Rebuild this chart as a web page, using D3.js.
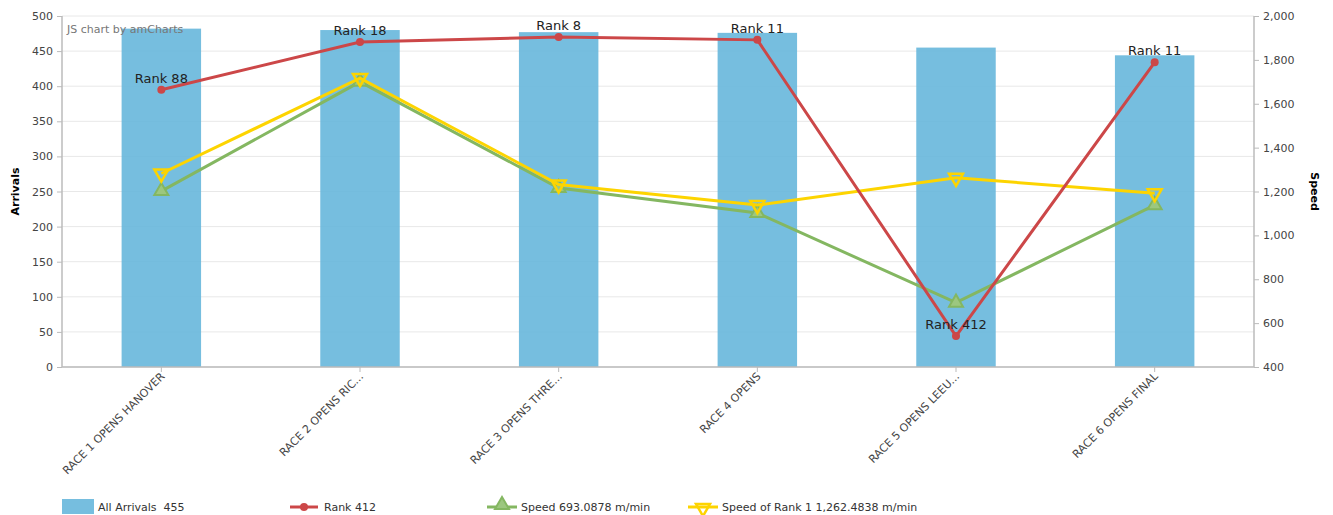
<!DOCTYPE html>
<html><head><meta charset="utf-8">
<script src="https://cdn.jsdelivr.net/npm/d3@7"></script>
<style>body{margin:0;background:#fff}svg{display:block;font-family:"DejaVu Sans",Verdana,sans-serif}</style>
</head><body><svg id="c" width="1333" height="515"></svg>
<script>
const categories = ["RACE 1 OPENS HANOVER","RACE 2 OPENS RIC...","RACE 3 OPENS THRE...","RACE 4 OPENS","RACE 5 OPENS LEEU...","RACE 6 OPENS FINAL"];
const arrivals = [482, 480, 477, 476, 455, 444];
const ranks = [88, 18, 8, 11, 412, 11];
const speed = [1202, 1700, 1216, 1102, 693.0878, 1138];
const speedRank1 = [1282, 1717, 1232, 1138, 1262.4838, 1192];
const leftTicks = [0,50,100,150,200,250,300,350,400,450,500];
const rightTicks = [400,600,800,1000,1200,1400,1600,1800,2000];

const svg = d3.select("#c");
const L = 62, R = 1254, T = 16, B = 367;
const x = d3.scaleBand().domain(categories).range([L, R]).paddingInner(0.6).paddingOuter(0.3);
const xc = d => x(d) + x.bandwidth()/2;
const yL = d3.scaleLinear().domain([0, 500]).range([B, T]);
const yR = d3.scaleLinear().domain([400, 2000]).range([B, T]);

// grid
svg.append("g").selectAll("line").data(leftTicks).join("line")
  .attr("x1", L).attr("x2", R).attr("y1", d => yL(d)).attr("y2", d => yL(d))
  .attr("stroke", "#e8e8e8").attr("stroke-width", 1);

// bars
svg.append("g").selectAll("rect").data(arrivals).join("rect")
  .attr("x", (d, i) => x(categories[i])).attr("width", x.bandwidth())
  .attr("y", d => yL(d)).attr("height", d => B - yL(d))
  .attr("fill", "#67b7dc").attr("fill-opacity", 0.9);

// watermark
svg.append("text").attr("x", 67).attr("y", 33).attr("font-size", 11).attr("fill", "#777").text("JS chart by amCharts");

// axes
const axL = svg.append("g").attr("transform", `translate(${L},0)`).call(d3.axisLeft(yL).tickValues(leftTicks).tickSize(5).tickPadding(4));
const axR = svg.append("g").attr("transform", `translate(${R},0)`).call(d3.axisRight(yR).tickValues(rightTicks).tickSize(5).tickPadding(4).tickFormat(d3.format(",")));
const axB = svg.append("g").attr("transform", `translate(0,${B})`).call(d3.axisBottom(x).tickSize(5).tickFormat(""));
[axL, axR, axB].forEach(a => {
  a.select(".domain").attr("stroke", "#bbb").attr("stroke-width", 1.5);
  a.selectAll(".tick line").attr("stroke", "#bbb");
  a.selectAll("text").attr("font-size", 11).attr("fill", "#444").attr("font-family", '"DejaVu Sans",Verdana,sans-serif');
});
axL.select(".domain").attr("d", `M0,${T}V${B}`);
axR.select(".domain").attr("d", `M0,${T}V${B}`);
axB.select(".domain").attr("d", `M${L},0H${R}`);

// x labels
svg.append("g").selectAll("text").data(categories).join("text")
  .attr("transform", d => `translate(${xc(d)+4},${B+10}) rotate(-45)`)
  .attr("text-anchor", "end").attr("font-size", 11).attr("fill", "#444").text(d => d);

// axis titles
svg.append("text").attr("transform", `translate(19,${(T+B)/2}) rotate(-90)`).attr("text-anchor", "middle")
  .attr("font-size", 11).attr("font-weight", "bold").attr("fill", "#000").text("Arrivals");
svg.append("text").attr("transform", `translate(1311,${(T+B)/2}) rotate(90)`).attr("text-anchor", "middle")
  .attr("font-size", 11).attr("font-weight", "bold").attr("fill", "#000").text("Speed");

// lines
const rankPos = ranks.map((r, i) => arrivals[i] - r + 1);
const line = (ys) => d3.line().x((d, i) => xc(categories[i])).y(d => ys(d));
const tri = d3.symbol().type(d3.symbolTriangle).size(85);

svg.append("path").datum(speed).attr("d", line(yR)).attr("fill", "none").attr("stroke", "#84b761").attr("stroke-width", 3);
svg.append("g").selectAll("path").data(speed).join("path")
  .attr("transform", (d, i) => `translate(${xc(categories[i])},${yR(d)})`).attr("d", tri)
  .attr("fill", "#9cc77f").attr("stroke", "#84b761").attr("stroke-width", 2);

svg.append("path").datum(speedRank1).attr("d", line(yR)).attr("fill", "none").attr("stroke", "#fdd400").attr("stroke-width", 3);
svg.append("g").selectAll("path").data(speedRank1).join("path")
  .attr("transform", (d, i) => `translate(${xc(categories[i])},${yR(d)}) rotate(180)`).attr("d", tri)
  .attr("fill", "none").attr("stroke", "#fdd400").attr("stroke-width", 2.5);

svg.append("path").datum(rankPos).attr("d", line(yL)).attr("fill", "none").attr("stroke", "#cc4748").attr("stroke-width", 3);
svg.append("g").selectAll("circle").data(rankPos).join("circle")
  .attr("cx", (d, i) => xc(categories[i])).attr("cy", d => yL(d)).attr("r", 4).attr("fill", "#cc4748");
svg.append("g").selectAll("text").data(rankPos).join("text")
  .attr("x", (d, i) => xc(categories[i])).attr("y", d => yL(d) - 7)
  .attr("text-anchor", "middle").attr("font-size", 13).attr("fill", "#222")
  .text((d, i) => "Rank " + ranks[i]);

// legend
const lg = svg.append("g").attr("font-size", 11).attr("fill", "#333");
lg.append("rect").attr("x", 62).attr("y", 499).attr("width", 32).attr("height", 15).attr("fill", "#67b7dc").attr("fill-opacity", 0.9);
lg.append("text").attr("x", 98).attr("y", 511).text("All Arrivals\u00a0 " + arrivals[4]);
lg.append("line").attr("x1", 290).attr("x2", 318).attr("y1", 507).attr("y2", 507).attr("stroke", "#cc4748").attr("stroke-width", 3);
lg.append("circle").attr("cx", 304).attr("cy", 507).attr("r", 4).attr("fill", "#cc4748");
lg.append("text").attr("x", 324).attr("y", 511).text("Rank " + ranks[4]);
lg.append("line").attr("x1", 487).attr("x2", 517).attr("y1", 507).attr("y2", 507).attr("stroke", "#84b761").attr("stroke-width", 3);
lg.append("path").attr("transform", "translate(502,505)").attr("d", tri).attr("fill", "#9cc77f").attr("stroke", "#84b761").attr("stroke-width", 2);
lg.append("text").attr("x", 521).attr("y", 511).text("Speed " + speed[4] + " m/min");
lg.append("line").attr("x1", 688).attr("x2", 718).attr("y1", 507).attr("y2", 507).attr("stroke", "#fdd400").attr("stroke-width", 3);
lg.append("path").attr("transform", "translate(703,508) rotate(180)").attr("d", tri).attr("fill", "none").attr("stroke", "#fdd400").attr("stroke-width", 2.5);
lg.append("text").attr("x", 722).attr("y", 511).text("Speed of Rank 1 " + d3.format(",.4f")(speedRank1[4]) + " m/min");
</script></body></html>
